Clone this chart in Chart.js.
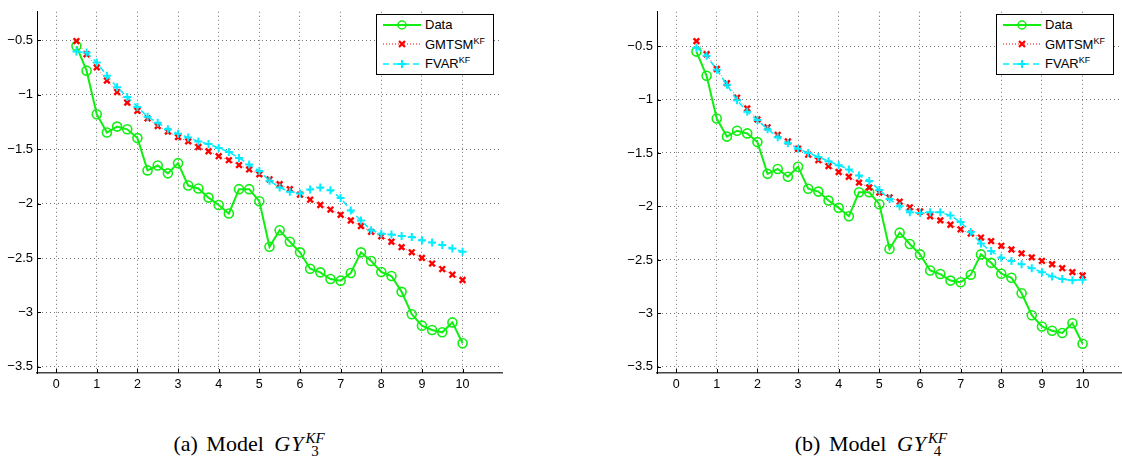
<!DOCTYPE html>
<html>
<head>
<meta charset="utf-8">
<script src="https://cdn.jsdelivr.net/npm/chart.js@4.4.1/dist/chart.umd.min.js"></script>
<style>
  html, body { margin: 0; padding: 0; width: 1122px; height: 469px; overflow: hidden; background: #fff; }
  .panel { position: absolute; top: 0; }
  .legend {
    position: absolute; top: 14px; width: 116px; height: 59px;
    background: #fff; border: 1.5px solid #000;
    font-family: 'Liberation Sans', Arial, sans-serif; font-size: 13px; color: #000;
  }
  .legend .row { height: 19.5px; display: flex; align-items: center; }
  .legend svg { margin-left: 6px; margin-right: 4px; flex: none; }
  .legend sup { font-size: 9px; vertical-align: 5px; line-height: 0; }
  .caption {
    position: absolute; top: 431px; width: 320px; text-align: center; white-space: nowrap;
    font-family: 'Liberation Serif', 'DejaVu Serif', serif; font-size: 22px; color: #000;
    word-spacing: 3px;
  }
  .caption i.gy { letter-spacing: 1px; margin-left: 2px; }
  .caption .ss { display: inline-flex; flex-direction: column; vertical-align: 8px; line-height: 13px; font-size: 15px; margin-left: 1px; }
</style>
</head>
<body>

<canvas id="chartA" class="panel" style="left:0px" width="510" height="400"></canvas>
<canvas id="chartB" class="panel" style="left:620px" width="510" height="400"></canvas>

<div class="legend" style="left:376px">
  <div class="row"><svg width="38" height="12"><line x1="0" y1="6" x2="38" y2="6" stroke="#11ee11" stroke-width="2"/><circle cx="19" cy="6" r="4" fill="none" stroke="#11ee11" stroke-width="1.5"/></svg><span>Data</span></div>
  <div class="row"><svg width="38" height="12"><line x1="0" y1="6" x2="38" y2="6" stroke="#ff0000" stroke-width="1" stroke-dasharray="1,2"/><path d="M16 3 L22 9 M22 3 L16 9" stroke="#ff0000" stroke-width="2.2"/></svg><span>GMTSM<sup>KF</sup></span></div>
  <div class="row"><svg width="38" height="12"><line x1="0" y1="6" x2="38" y2="6" stroke="#00eeff" stroke-width="1.5" stroke-dasharray="6,4"/><path d="M15 6 L23 6 M19 2 L19 10" stroke="#00eeff" stroke-width="2"/></svg><span>FVAR<sup>KF</sup></span></div>
</div>
<div class="legend" style="left:996px">
  <div class="row"><svg width="38" height="12"><line x1="0" y1="6" x2="38" y2="6" stroke="#11ee11" stroke-width="2"/><circle cx="19" cy="6" r="4" fill="none" stroke="#11ee11" stroke-width="1.5"/></svg><span>Data</span></div>
  <div class="row"><svg width="38" height="12"><line x1="0" y1="6" x2="38" y2="6" stroke="#ff0000" stroke-width="1" stroke-dasharray="1,2"/><path d="M16 3 L22 9 M22 3 L16 9" stroke="#ff0000" stroke-width="2.2"/></svg><span>GMTSM<sup>KF</sup></span></div>
  <div class="row"><svg width="38" height="12"><line x1="0" y1="6" x2="38" y2="6" stroke="#00eeff" stroke-width="1.5" stroke-dasharray="6,4"/><path d="M15 6 L23 6 M19 2 L19 10" stroke="#00eeff" stroke-width="2"/></svg><span>FVAR<sup>KF</sup></span></div>
</div>

<div class="caption" style="left:89px">(a) Model <i class="gy">GY</i><span class="ss"><i>KF</i><span>3</span></span></div>
<div class="caption" style="left:711px">(b) Model <i class="gy">GY</i><span class="ss"><i>KF</i><span>4</span></span></div>

<script>
// maturities (x axis)
const maturities = [0.5, 0.75, 1, 1.25, 1.5, 1.75, 2, 2.25, 2.5, 2.75, 3, 3.25, 3.5, 3.75, 4, 4.25, 4.5, 4.75, 5,
    5.25, 5.5, 5.75, 6, 6.25, 6.5, 6.75, 7, 7.25, 7.5, 7.75, 8, 8.25, 8.5, 8.75, 9, 9.25, 9.5, 9.75, 10];

// observed data (same in both panels)
const dataValues = [-0.552, -0.778, -1.178, -1.347, -1.292, -1.317, -1.398, -1.695, -1.650, -1.722, -1.628, -1.834,
    -1.861, -1.945, -2.013, -2.091, -1.867, -1.867, -1.979, -2.397, -2.245, -2.351, -2.448, -2.599, -2.632, -2.693,
    -2.708, -2.638, -2.448, -2.527, -2.629, -2.666, -2.811, -3.017, -3.122, -3.162, -3.183, -3.092, -3.283];

// panel (a) GY3
const gmtsmA = [-0.506, -0.627, -0.748, -0.869, -0.975, -1.072, -1.147, -1.217, -1.287, -1.338, -1.389, -1.428,
    -1.480, -1.519, -1.564, -1.601, -1.646, -1.686, -1.731, -1.777, -1.822, -1.867, -1.918, -1.964, -2.013, -2.055,
    -2.103, -2.155, -2.206, -2.260, -2.300, -2.351, -2.400, -2.448, -2.499, -2.551, -2.602, -2.653, -2.702];
const fvarA = [-0.603, -0.612, -0.703, -0.824, -0.930, -1.020, -1.111, -1.202, -1.256, -1.317, -1.359, -1.392,
    -1.428, -1.453, -1.489, -1.525, -1.580, -1.641, -1.701, -1.791, -1.852, -1.891, -1.908, -1.870, -1.852, -1.878,
    -1.948, -2.064, -2.155, -2.245, -2.276, -2.285, -2.297, -2.306, -2.336, -2.357, -2.381, -2.412, -2.442];

// panel (b) GY4
const gmtsmB = [-0.454, -0.577, -0.715, -0.847, -0.983, -1.084, -1.186, -1.260, -1.331, -1.392, -1.460, -1.516,
    -1.567, -1.623, -1.678, -1.722, -1.777, -1.823, -1.870, -1.915, -1.955, -2.008, -2.047, -2.091, -2.130, -2.171,
    -2.214, -2.254, -2.291, -2.324, -2.368, -2.402, -2.439, -2.476, -2.509, -2.540, -2.577, -2.614, -2.645];
const fvarB = [-0.515, -0.592, -0.721, -0.863, -1.008, -1.115, -1.192, -1.278, -1.352, -1.408, -1.460, -1.500,
    -1.537, -1.577, -1.614, -1.654, -1.710, -1.761, -1.845, -1.931, -1.999, -2.054, -2.060, -2.054, -2.054, -2.085,
    -2.146, -2.239, -2.347, -2.417, -2.479, -2.509, -2.540, -2.577, -2.614, -2.654, -2.679, -2.691, -2.685];

const xTicks = [0, 1, 2, 3, 4, 5, 6, 7, 8, 9, 10];
const yTicks = [-3.5, -3, -2.5, -2, -1.5, -1, -0.5];

const toPoints = vals => vals.map((v, i) => ({ x: maturities[i], y: v }));

// MATLAB style ticks pointing into the plot
const inwardTicks = {
    id: 'inwardTicks',
    afterDatasetsDraw(chart) {
        const ctx = chart.ctx;
        const area = chart.chartArea;
        const xs = chart.scales.x, ys = chart.scales.y;
        ctx.save();
        ctx.strokeStyle = '#000';
        ctx.lineWidth = 1;
        ctx.beginPath();
        xTicks.forEach(t => {
            const px = Math.round(xs.getPixelForValue(t)) + 0.5;
            ctx.moveTo(px, area.bottom);
            ctx.lineTo(px, area.bottom - 4);
        });
        yTicks.forEach(t => {
            const py = Math.round(ys.getPixelForValue(t)) + 0.5;
            ctx.moveTo(area.left, py);
            ctx.lineTo(area.left + 4, py);
        });
        ctx.stroke();
        ctx.restore();
    }
};

const tickFont = { family: "'Liberation Sans', Arial, sans-serif", size: 13 };

function makeChart(id, gmtsm, fvar, yMax) {
    const ctx = document.getElementById(id).getContext('2d');
    return new Chart(ctx, {
        type: 'line',
        data: {
            datasets: [{
                label: 'Data',
                data: toPoints(dataValues),
                borderColor: '#11ee11',
                borderWidth: 2,
                pointStyle: 'circle',
                pointRadius: 4.5,
                pointBorderWidth: 1.6,
                pointBackgroundColor: 'rgba(0,0,0,0)',
                pointBorderColor: '#11ee11',
                order: 3
            }, {
                label: 'GMTSM',
                data: toPoints(gmtsm),
                borderColor: 'rgba(255,0,0,0.6)',
                borderWidth: 1,
                borderDash: [1, 2],
                pointStyle: 'crossRot',
                pointRadius: 4,
                pointBorderWidth: 2.4,
                pointBorderColor: '#ff0000',
                order: 2
            }, {
                label: 'FVAR',
                data: toPoints(fvar),
                borderColor: '#00eeff',
                borderWidth: 1.5,
                borderDash: [6, 4],
                pointStyle: 'cross',
                pointRadius: 4,
                pointBorderWidth: 2,
                pointBorderColor: '#00eeff',
                order: 1
            }]
        },
        options: {
            responsive: false,
            animation: false,
            devicePixelRatio: 1,
            layout: { padding: { top: 7, right: 8, bottom: 0, left: 0 } },
            plugins: { legend: { display: false }, tooltip: { enabled: false } },
            scales: {
                x: {
                    type: 'linear',
                    min: -0.47,
                    max: 10.97,
                    afterBuildTicks: s => { s.ticks = xTicks.map(v => ({ value: v })); },
                    afterFit: s => { s.height = 27; },
                    ticks: {
                        padding: 4,
                        color: '#000',
                        font: { family: "'Liberation Sans', Arial, sans-serif", size: 12.5 },
                        maxRotation: 0,
                        autoSkip: false,
                        callback: v => String(v)
                    },
                    grid: { color: 'rgba(0,0,0,0.55)', lineWidth: 1, drawTicks: false },
                    border: { display: true, color: '#444', width: 1.5, dash: [1, 3] }
                },
                y: {
                    type: 'linear',
                    min: -3.557,
                    max: yMax,
                    afterBuildTicks: s => { s.ticks = yTicks.map(v => ({ value: v })); },
                    afterFit: s => { s.width = 37; },
                    ticks: {
                        padding: 4,
                        color: '#000',
                        font: tickFont,
                        autoSkip: false,
                        callback: v => (v < 0 ? '\u2212' : '') + String(Math.abs(v))
                    },
                    grid: { color: 'rgba(0,0,0,0.55)', lineWidth: 1, drawTicks: false },
                    border: { display: true, color: '#000', width: 1, dash: [1, 3] }
                }
            }
        },
        plugins: [inwardTicks]
    });
}

makeChart('chartA', gmtsmA, fvarA, -0.237);
makeChart('chartB', gmtsmB, fvarB, -0.18);
</script>
</body>
</html>
